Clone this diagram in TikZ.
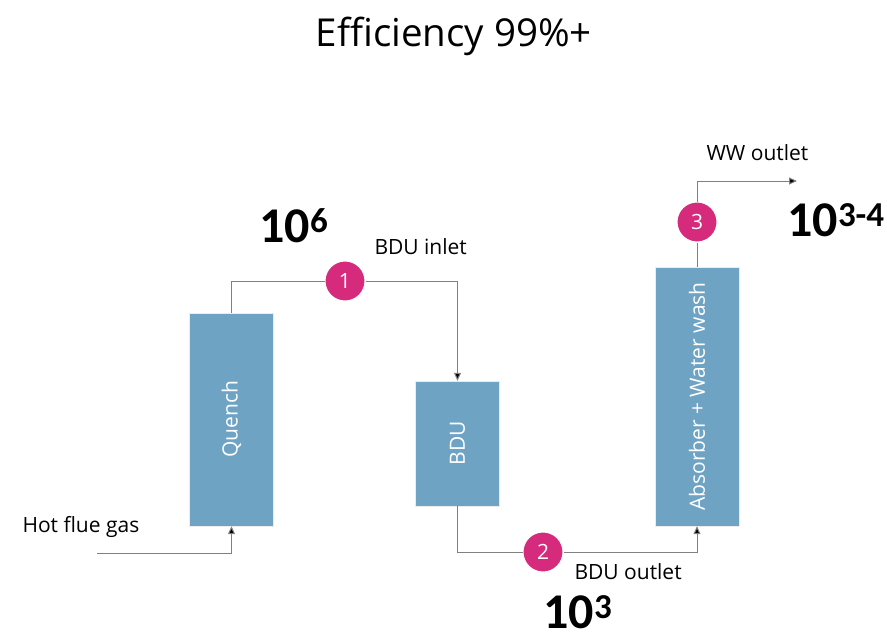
\documentclass[tikz,border=0pt]{standalone}
\usepackage{fontspec}
\setmainfont{Open Sans}
\newfontfamily\numfont{Carlito}
\usetikzlibrary{arrows.meta}
\definecolor{unitblue}{RGB}{111,163,196}
\definecolor{tagpink}{RGB}{214,43,124}
\definecolor{pipegray}{RGB}{128,128,128}
\begin{document}
\begin{tikzpicture}[x=1pt,y=-1pt,
  unit/.style={draw=white!85!gray,fill=unitblue,minimum width=84pt,inner sep=0pt,
    text=white,font=\fontsize{21}{21}\selectfont},
  tag/.style={circle,fill=tagpink,draw=white,line width=1pt,minimum size=40pt,inner sep=0pt,
    text=white,font=\fontsize{21}{21}\selectfont},
  pipe/.style={draw=pipegray,line width=1pt},
  flow/.style={pipe,arrows={-{Triangle[length=8pt,width=7pt,fill=black]}}},
  lbl/.style={font=\fontsize{21}{21}\selectfont},
  big/.style={font=\numfont\fontsize{50}{50}\selectfont\bfseries,inner sep=0pt,anchor=base}]
\useasboundingbox (0,0) rectangle (887,640);
\fill[white] (0,0) rectangle (887,640);

% title
\node[font=\fontsize{38.5}{38.5}\selectfont] (title) at (454,36) {Efficiency 99\%+};

% process units
\node[unit,minimum height=213pt] (quench) at (231.5,419.5) {\rotatebox{90}{Quench}};
\node[unit,minimum height=125pt] (bdu) at (457.5,443.5) {\rotatebox{90}{BDU}};
\node[unit,minimum height=259pt] (absorber) at (697,396.5) {\rotatebox{90}{Absorber + Water wash}};

% sampling points
\node[tag] (t1) at (345,281) {1};
\node[tag] (t2) at (543,552) {2};
\node[tag] (t3) at (697,222) {3};

% free ends
\coordinate (feed) at (97,553);
\coordinate (vent) at (797,181);

% flue gas into the quench
\draw[flow] (feed) -| (quench.south);
% quench to BDU
\draw[pipe] (quench.north) |- (t1.west);
\draw[flow] (t1.east) -| (bdu.north);
% BDU to absorber
\draw[pipe] (bdu.south) |- (t2.west);
\draw[flow] (t2.east) -| (absorber.south);
% absorber to outlet
\draw[pipe] (absorber.north) -- (t3.south);
\draw[flow] (t3.north) |- (vent);

% labels
\node[lbl,anchor=west] (lfeed) at (19,527) {Hot flue gas};
\node[lbl,anchor=west] (linlet) at (371,247) {BDU inlet};
\node[lbl,anchor=west] (loutlet) at (571,572) {BDU outlet};
\node[lbl,anchor=west] (lww) at (703,153) {WW outlet};

\node[big] (c1) at (294,242) {10\textsuperscript{6}};
\node[big] (c2) at (578,628) {10\textsuperscript{3}};
\node[big] (c3) at (836,236) {10\textsuperscript{3-4}};
\end{tikzpicture}
\end{document}
